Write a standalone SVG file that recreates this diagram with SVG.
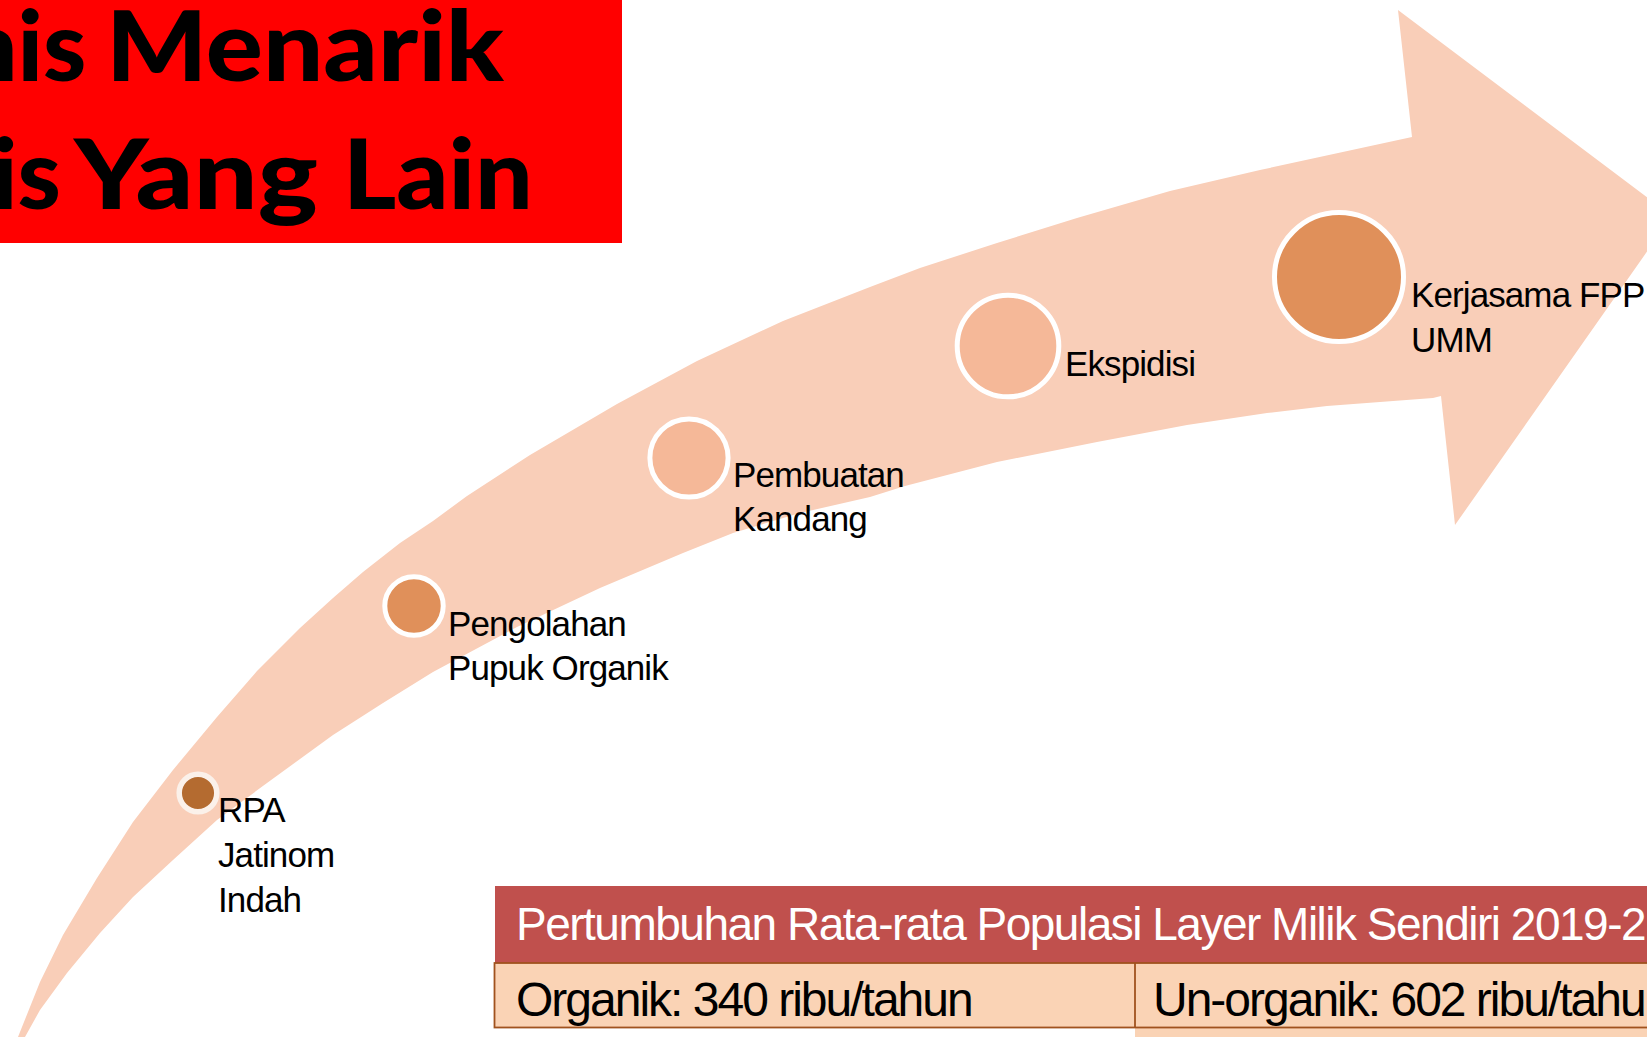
<svg xmlns="http://www.w3.org/2000/svg" width="1647" height="1037" viewBox="0 0 1647 1037">
<style>
.lbl{font-family:"Liberation Sans",Arial,sans-serif;font-size:35px;letter-spacing:-0.9px;fill:#000}
.ring{stroke:#fff;stroke-width:5}
.dark{fill:#E0905A}
.light{fill:#F5B898}
.title{font-family:Lato,"DejaVu Sans",sans-serif;font-weight:900;font-size:98px;fill:#000}
.th{font-family:"Liberation Sans",Arial,sans-serif;font-size:46px;letter-spacing:-1.5px;fill:#fff}
.td{font-family:"Liberation Sans",Arial,sans-serif;font-size:48px;letter-spacing:-2px;fill:#000}
</style>
<rect width="1647" height="1037" fill="#fff"/>
<g id="title">
<rect x="0" y="0" width="622" height="243" fill="#FF0000"/>
<text class="title" y="81"><tspan x="-38">nis</tspan><tspan x="106" textLength="398" lengthAdjust="spacingAndGlyphs">Menarik</tspan></text>
<text class="title" y="209"><tspan x="-8">is</tspan><tspan x="74" textLength="244" lengthAdjust="spacingAndGlyphs">Yang</tspan><tspan x="343" textLength="190" lengthAdjust="spacingAndGlyphs">Lain</tspan></text>
</g>
<g id="connectors">
<polygon id="progress-arrow" fill="#F9CEB8" points="18,1037 40,982 63,935 97,878 133,822 173,770 217,717 257,671 300,628 333,598 363,572 400,543 433,521 467,496 530,455 617,404 697,361 783,321 870,287 920,268 997,243 1077,218 1170,191 1260,170 1412,137 1398,10 1672,216 1455,525 1441,396 1433,398 1327,406 1267,413 1187,425 1097,442 997,462 905,486 870,497 800,513 733,533 683,553 600,588 517,627 433,672 383,703 333,735 267,783 217,820 173,860 133,897 100,933 67,973 40,1010 25,1037"/>
</g>
<g id="node-rpa">
<circle cx="198" cy="793" r="18.8" fill="#B46B30" stroke="#FBF1EA" stroke-width="5.5"/>
<text class="lbl" x="218"><tspan x="218" y="822">RPA</tspan><tspan x="218" y="867">Jatinom</tspan><tspan x="218" y="912">Indah</tspan></text>
</g>
<g id="node-pengolahan">
<circle class="ring dark" cx="414" cy="606" r="29.2"/>
<text class="lbl"><tspan x="448" y="636">Pengolahan</tspan><tspan x="448" y="680">Pupuk Organik</tspan></text>
</g>
<g id="node-pembuatan">
<circle class="ring light" cx="689" cy="458" r="39.1"/>
<text class="lbl"><tspan x="733" y="487">Pembuatan</tspan><tspan x="733" y="531">Kandang</tspan></text>
</g>
<g id="node-ekspidisi">
<circle class="ring light" cx="1008" cy="346" r="50.8"/>
<text class="lbl" x="1065" y="376">Ekspidisi</text>
</g>
<g id="node-kerjasama">
<circle class="ring dark" cx="1339" cy="277" r="64.5"/>
<text class="lbl"><tspan x="1411" y="307">Kerjasama FPP</tspan><tspan x="1411" y="352">UMM</tspan></text>
</g>
<g id="table">
<rect x="495" y="886" width="1160" height="77" fill="#C0504D"/>
<text class="th" x="516" y="940">Pertumbuhan Rata-rata Populasi Layer Milik Sendiri 2019-2</text>
<rect x="1135" y="1028" width="520" height="12" fill="#FAD3B5"/>
<rect x="494.5" y="963" width="1160" height="64.5" fill="#FAD3B5" stroke="#A0521E" stroke-width="1.8"/>
<line x1="1135" y1="963" x2="1135" y2="1028" stroke="#A0521E" stroke-width="1.8"/>
<text class="td" x="516" y="1016">Organik: 340 ribu/tahun</text>
<text class="td" x="1153" y="1016">Un-organik: 602 ribu/tahun</text>
</g>
</svg>
